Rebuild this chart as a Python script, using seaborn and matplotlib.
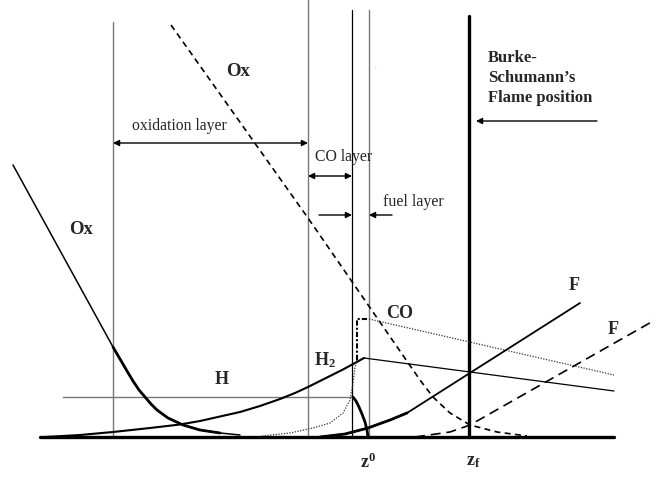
import matplotlib
matplotlib.use("Agg")
import matplotlib.pyplot as plt
import seaborn as sns

sns.set_theme(style="white")
plt.rcParams['font.family'] = ['Liberation Serif', 'DejaVu Serif']
plt.rcParams['mathtext.fontset'] = 'custom'
plt.rcParams['mathtext.rm'] = 'Liberation Serif'
plt.rcParams['mathtext.bf'] = 'Liberation Serif:bold'
plt.rcParams['mathtext.it'] = 'Liberation Serif:italic'

# ---- schematic data (drawing units = reference pixels, y downward) ----
baseline_x = [40, 614]
baseline_y = [437, 437]

vlines_x = [113, 308, 352, 369, 469]
vlines_top = [22, 0, 10, 10, 16]
vlines_color = ['#777777', '#777777', 'black', '#777777', 'black']
vlines_width = [1.0, 1.0, 0.9, 1.0, 2.4]

h_line_x = [63, 352]
h_line_y = [397, 397]

ox_left_x = [13, 113, 120, 127, 133, 139, 145, 151, 157, 168, 183, 200, 220, 240]
ox_left_y = [165, 347, 359, 371, 381, 390, 397, 404, 410, 418, 425, 430, 433, 435]
ox_thick_x = [113, 120, 127, 133, 139, 145, 151, 157, 168, 183, 200, 220]
ox_thick_y = [347, 359, 371, 381, 390, 397, 404, 410, 418, 425, 430, 433]

ox_dash_x = [171, 308, 420, 433, 450, 470, 497, 527]
ox_dash_y = [25, 218, 380, 397, 413, 425, 432, 436]

h2_x = [45, 80, 113, 150, 180, 200, 220, 240, 260, 280, 295, 308, 320, 330, 342, 355, 364]
h2_y = [437, 435, 432, 428, 424.5, 421, 416.5, 412, 406, 399, 393, 387, 381, 376, 370, 363, 358]
h2_tail_x = [364, 614]
h2_tail_y = [358, 391]

co_dot_x = [262, 290, 313, 330, 343, 350, 353, 355, 357]
co_dot_y = [436, 433, 428, 423, 413, 400, 383, 367, 360]
co_dashdot_x = [357, 357, 369]
co_dashdot_y = [360, 319, 319]
co_tail_x = [369, 614]
co_tail_y = [319, 375]

h_peak_x = [353, 356, 359, 362, 365, 367, 368]
h_peak_y = [397, 401, 407, 414, 422, 430, 437]

f_solid_x = [320, 345, 368, 390, 407, 580]
f_solid_y = [437, 434, 428, 420, 413, 303]
f_thick_x = [320, 345, 368, 390, 407]
f_thick_y = [437, 434, 428, 420, 413]

f_dash_x = [415, 450, 470, 655]
f_dash_y = [437, 432, 425, 320]

burke_lines = ['Burke-', 'Schumann\u2019s', 'Flame position']
burke_y = [58, 78, 98]

fig = plt.figure(figsize=(6.57, 4.82), dpi=100)
ax = fig.add_axes([0, 0, 1, 1])
ax.set_xlim(0, 657)
ax.set_ylim(482, 0)
ax.axis('off')


def curve(xs, ys, **kw):
    sns.lineplot(x=xs, y=ys, sort=False, estimator=None, ax=ax, **kw)


# vertical layer boundaries
for x, top, c, w in zip(vlines_x, vlines_top, vlines_color, vlines_width):
    curve([x, x], [top, 437], color=c, linewidth=w)

curve(h_line_x, h_line_y, color='#777777', linewidth=1.0)

# curves
curve(ox_left_x, ox_left_y, color='black', linewidth=1.1)
curve(ox_thick_x, ox_thick_y, color='black', linewidth=2.0)
curve(ox_dash_x, ox_dash_y, color='black', linewidth=1.2, linestyle=(0, (3.6, 2.6)))
curve(h2_x, h2_y, color='black', linewidth=1.5)
curve(h2_tail_x, h2_tail_y, color='black', linewidth=0.9)
curve(co_dot_x, co_dot_y, color='#333333', linewidth=0.9, linestyle=(0, (1, 1.2)))
curve(co_dashdot_x, co_dashdot_y, color='black', linewidth=1.5, linestyle=(0, (2.5, 1, 1, 1)))
curve(co_tail_x, co_tail_y, color='#333333', linewidth=0.9, linestyle=(0, (1, 1.2)))
curve(h_peak_x, h_peak_y, color='black', linewidth=2.0)
curve(f_solid_x, f_solid_y, color='black', linewidth=1.3)
curve(f_thick_x, f_thick_y, color='black', linewidth=2.0)
curve(f_dash_x, f_dash_y, color='black', linewidth=1.2, linestyle=(0, (6, 3.5)))
curve(baseline_x, baseline_y, color='black', linewidth=2.4)

# arrows
arw = dict(color='black', lw=1.0, shrinkA=0, shrinkB=0, mutation_scale=9)
ax.annotate('', xy=(113, 143), xytext=(308, 143), arrowprops=dict(arrowstyle='<|-|>', **arw))
ax.annotate('', xy=(308, 176), xytext=(352, 176), arrowprops=dict(arrowstyle='<|-|>', **arw))
ax.annotate('', xy=(352, 215), xytext=(319, 215), arrowprops=dict(arrowstyle='-|>', **arw))
ax.annotate('', xy=(369, 215), xytext=(392, 215), arrowprops=dict(arrowstyle='-|>', **arw))
ax.annotate('', xy=(476, 121), xytext=(597, 121), arrowprops=dict(arrowstyle='-|>', **arw))

# labels
ax.text(238, 72, 'Ox', fontsize=13.5, fontweight='bold', ha='center', va='center')
ax.text(81, 230, 'Ox', fontsize=13.5, fontweight='bold', ha='center', va='center')
ax.text(179, 126, 'oxidation layer', fontsize=11.3, ha='center', va='center')
ax.text(344, 157, 'CO layer', fontsize=11.3, ha='center', va='center')
ax.text(413, 202, 'fuel layer', fontsize=11.5, ha='center', va='center')
for txt, y in zip(burke_lines, burke_y):
    ax.text(488, y, txt, fontsize=12, fontweight='bold', ha='left', va='center')
ax.text(222, 380, 'H', fontsize=13, fontweight='bold', ha='center', va='center')
ax.text(325, 360, r'$\mathbf{H_2}$', fontsize=13, ha='center', va='center')
ax.text(400, 313, 'CO', fontsize=13, fontweight='bold', ha='center', va='center')
ax.text(574, 285, 'F', fontsize=13, fontweight='bold', ha='center', va='center')
ax.text(613, 330, 'F', fontsize=13, fontweight='bold', ha='center', va='center')
ax.text(368, 462, r'$\mathbf{z^0}$', fontsize=13, ha='center', va='center')
ax.text(473, 462, r'$\mathbf{z_f}$', fontsize=13, ha='center', va='center')
ax.text(375, 66, '.', fontsize=5, ha='center', va='center', color='#555555')

fig.savefig('out.png', dpi=100)
